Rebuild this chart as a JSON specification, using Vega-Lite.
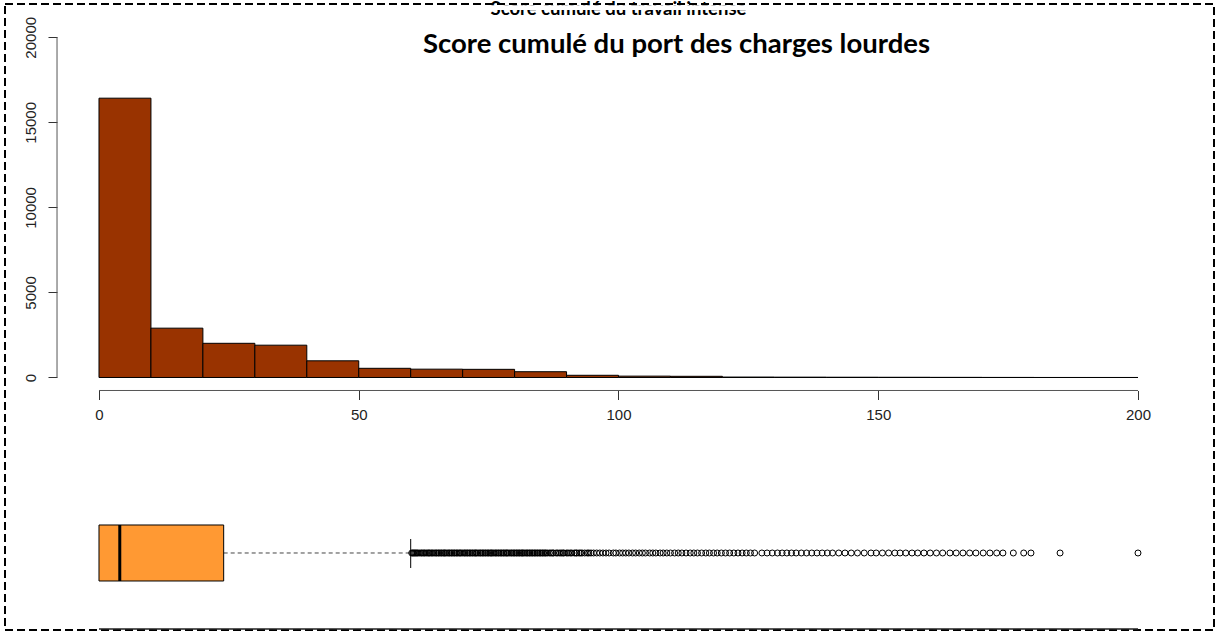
{
  "$schema": "https://vega.github.io/schema/vega-lite/v6.json",
  "width": 1209,
  "height": 626,
  "autosize": {"type": "none"},
  "padding": {"left": 5, "top": 4, "right": 4, "bottom": 2},
  "background": "white",
  "config": {
    "view": {"stroke": "black", "strokeWidth": 2, "strokeDash": [8, 4]},
    "font": "Liberation Sans"
  },
  "datasets": {
    "hist": [
      {"start": 0, "end": 10, "count": 16420},
      {"start": 10, "end": 20, "count": 2900},
      {"start": 20, "end": 30, "count": 2010},
      {"start": 30, "end": 40, "count": 1900},
      {"start": 40, "end": 50, "count": 980},
      {"start": 50, "end": 60, "count": 540},
      {"start": 60, "end": 70, "count": 490},
      {"start": 70, "end": 80, "count": 480},
      {"start": 80, "end": 90, "count": 340},
      {"start": 90, "end": 100, "count": 130},
      {"start": 100, "end": 110, "count": 80},
      {"start": 110, "end": 120, "count": 70},
      {"start": 120, "end": 130, "count": 25},
      {"start": 130, "end": 140, "count": 20},
      {"start": 140, "end": 150, "count": 15},
      {"start": 150, "end": 160, "count": 12},
      {"start": 160, "end": 170, "count": 8},
      {"start": 170, "end": 180, "count": 4},
      {"start": 180, "end": 190, "count": 1},
      {"start": 190, "end": 200, "count": 1}
    ],
    "box": [
      {"lower": 0, "q1": 0, "median": 4, "q3": 24, "upper": 60}
    ],
    "outliers": [
      {"v": 60.2}, {"v": 60.4}, {"v": 60.6}, {"v": 60.8}, {"v": 61}, {"v": 61.2}, {"v": 61.4}, {"v": 61.7}, {"v": 62}, {"v": 62.2},
      {"v": 62.5}, {"v": 62.7}, {"v": 63}, {"v": 63.3}, {"v": 63.5}, {"v": 63.7}, {"v": 64}, {"v": 64.2}, {"v": 64.5}, {"v": 64.8},
      {"v": 65}, {"v": 65.3}, {"v": 65.5}, {"v": 65.8}, {"v": 66}, {"v": 66.3}, {"v": 66.5}, {"v": 66.7}, {"v": 67}, {"v": 67.3},
      {"v": 67.5}, {"v": 67.8}, {"v": 68}, {"v": 68.3}, {"v": 68.5}, {"v": 68.8}, {"v": 69}, {"v": 69.3}, {"v": 69.5}, {"v": 69.7},
      {"v": 70}, {"v": 70.3}, {"v": 70.5}, {"v": 70.8}, {"v": 71}, {"v": 71.3}, {"v": 71.5}, {"v": 71.8}, {"v": 72}, {"v": 72.3},
      {"v": 72.5}, {"v": 72.7}, {"v": 73}, {"v": 73.3}, {"v": 73.5}, {"v": 73.8}, {"v": 74}, {"v": 74.3}, {"v": 74.5}, {"v": 74.8},
      {"v": 75}, {"v": 75.3}, {"v": 75.5}, {"v": 75.7}, {"v": 76}, {"v": 76.3}, {"v": 76.5}, {"v": 76.8}, {"v": 77}, {"v": 77.3},
      {"v": 77.5}, {"v": 77.8}, {"v": 78}, {"v": 78.3}, {"v": 78.5}, {"v": 78.7}, {"v": 79}, {"v": 79.3}, {"v": 79.5}, {"v": 79.8},
      {"v": 80}, {"v": 80.3}, {"v": 80.5}, {"v": 80.8}, {"v": 81}, {"v": 81.3}, {"v": 81.5}, {"v": 81.7}, {"v": 82}, {"v": 82.3},
      {"v": 82.5}, {"v": 82.8}, {"v": 83}, {"v": 83.3}, {"v": 83.5}, {"v": 83.8}, {"v": 84}, {"v": 84.3}, {"v": 84.5}, {"v": 84.8},
      {"v": 85}, {"v": 85.3}, {"v": 85.5}, {"v": 85.8}, {"v": 86}, {"v": 86.3}, {"v": 86.7}, {"v": 87}, {"v": 87.3}, {"v": 87.5},
      {"v": 88}, {"v": 88.3}, {"v": 88.7}, {"v": 89}, {"v": 89.3}, {"v": 89.5}, {"v": 90}, {"v": 90.3}, {"v": 90.7}, {"v": 91},
      {"v": 91.5}, {"v": 91.8}, {"v": 92}, {"v": 92.4}, {"v": 92.7}, {"v": 93}, {"v": 93.5}, {"v": 94}, {"v": 94.3}, {"v": 94.7},
      {"v": 95.2}, {"v": 95.8}, {"v": 96.4}, {"v": 97}, {"v": 97.6}, {"v": 98.2}, {"v": 99}, {"v": 99.5}, {"v": 100.2}, {"v": 100.8},
      {"v": 101.4}, {"v": 102}, {"v": 102.7}, {"v": 103.3}, {"v": 104}, {"v": 104.6}, {"v": 105.2}, {"v": 106}, {"v": 106.6}, {"v": 107.2},
      {"v": 108}, {"v": 108.6}, {"v": 109.3}, {"v": 110}, {"v": 110.8}, {"v": 111.5}, {"v": 112.2}, {"v": 113}, {"v": 113.8}, {"v": 114.5},
      {"v": 115.2}, {"v": 116}, {"v": 116.8}, {"v": 117.5}, {"v": 118.3}, {"v": 119}, {"v": 119.8}, {"v": 120.6}, {"v": 121.4}, {"v": 122.2},
      {"v": 123}, {"v": 123.8}, {"v": 124.6}, {"v": 125.4}, {"v": 126.2},
      {"v": 127.6}, {"v": 128.6}, {"v": 129.6}, {"v": 130.6}, {"v": 131.5}, {"v": 132.4}, {"v": 133.3}, {"v": 134.2}, {"v": 135.2}, {"v": 136.2},
      {"v": 137.2}, {"v": 138.2}, {"v": 139.2}, {"v": 140.2}, {"v": 141.2}, {"v": 142.4}, {"v": 143.6}, {"v": 144.8}, {"v": 146}, {"v": 147.3}, {"v": 148.6},
      {"v": 149.6}, {"v": 150.8}, {"v": 152}, {"v": 153.2}, {"v": 154.2}, {"v": 155.3}, {"v": 156.5}, {"v": 157.6}, {"v": 158.8}, {"v": 160},
      {"v": 161.2}, {"v": 162.4},
      {"v": 163.8}, {"v": 165}, {"v": 166.3}, {"v": 167.6}, {"v": 168.8},
      {"v": 170.2}, {"v": 171.5}, {"v": 172.8}, {"v": 174},
      {"v": 176}, {"v": 178}, {"v": 179.4}, {"v": 185}, {"v": 200}
    ]
  },
  "layer": [
    {
      "data": {"name": "hist"},
      "mark": {"type": "rect", "fill": "#993300", "stroke": "black", "strokeWidth": 1},
      "encoding": {
        "x": {
          "field": "start", "type": "quantitative", "title": null,
          "scale": {"domain": [-18.094, 214.63], "nice": false, "zero": false},
          "axis": {
            "values": [0, 50, 100, 150, 200], "domain": false, "grid": false,
            "offset": -239.5, "tickSize": 9, "tickColor": "#333", "tickWidth": 1,
            "labelPadding": 8, "labelFontSize": 15, "labelColor": "#222", "format": "d",
            "labelFont": "Liberation Sans", "labelFlush": false, "labelOverlap": false, "title": null
          }
        },
        "x2": {"field": "end"},
        "y": {
          "field": "count", "type": "quantitative", "title": null,
          "scale": {"domain": [-14844, 21957], "nice": false, "zero": false},
          "axis": {
            "values": [0, 5000, 10000, 15000, 20000], "domain": false, "grid": false,
            "offset": -52, "tickSize": 9, "tickColor": "#333", "tickWidth": 1,
            "labelAngle": -90, "labelAlign": "center", "labelBaseline": "bottom", "format": "d",
            "labelPadding": 10, "labelFontSize": 15, "labelColor": "#222",
            "labelFont": "Liberation Sans", "labelFlush": false, "labelOverlap": false, "title": null
          }
        },
        "y2": {"datum": 0}
      }
    },
    {
      "data": {"values": [{}]},
      "mark": {"type": "rule", "color": "#555", "strokeWidth": 1},
      "encoding": {"x": {"datum": -8.08}, "y": {"datum": 0}, "y2": {"datum": 20000}}
    },
    {
      "data": {"values": [{}]},
      "mark": {"type": "rule", "color": "#555", "strokeWidth": 1},
      "encoding": {"x": {"datum": 0}, "x2": {"datum": 200}, "y": {"datum": -764}}
    },
    {
      "data": {"values": [{}]},
      "mark": {"type": "rule", "color": "#222", "strokeWidth": 1.5},
      "encoding": {"x": {"datum": 0}, "x2": {"datum": 200}, "y": {"datum": -14790}}
    },
    {
      "data": {"name": "box"},
      "mark": {"type": "rule", "color": "#444", "strokeWidth": 1, "strokeDash": [4, 3]},
      "encoding": {
        "x": {"field": "q3", "type": "quantitative", "title": null},
        "x2": {"field": "upper"},
        "y": {"datum": -10317}
      }
    },
    {
      "data": {"name": "box"},
      "mark": {"type": "rule", "color": "black", "strokeWidth": 1},
      "encoding": {
        "x": {"field": "upper", "type": "quantitative", "title": null},
        "y": {"datum": -9494},
        "y2": {"datum": -11199}
      }
    },
    {
      "data": {"name": "box"},
      "mark": {"type": "rect", "fill": "#FF9933", "stroke": "black", "strokeWidth": 1},
      "encoding": {
        "x": {"field": "q1", "type": "quantitative", "title": null},
        "x2": {"field": "q3"},
        "y": {"datum": -8671},
        "y2": {"datum": -11963}
      }
    },
    {
      "data": {"name": "box"},
      "mark": {"type": "rule", "color": "black", "strokeWidth": 3},
      "encoding": {
        "x": {"field": "median", "type": "quantitative", "title": null},
        "y": {"datum": -8671},
        "y2": {"datum": -11963}
      }
    },
    {
      "data": {"name": "outliers"},
      "mark": {"type": "point", "shape": "circle", "filled": false, "size": 36, "stroke": "black", "strokeWidth": 1, "opacity": 1},
      "encoding": {
        "x": {"field": "v", "type": "quantitative", "title": null},
        "y": {"datum": -10317}
      }
    },
    {
      "data": {"values": [{}]},
      "mark": {"type": "text", "font": "Lato", "fontWeight": "bold", "fontSize": 18.5, "align": "center", "baseline": "alphabetic", "color": "black"},
      "encoding": {"x": {"datum": 100}, "y": {"datum": 21282}, "text": {"value": "Score cumulé du travail intense"}}
    },
    {
      "data": {"values": [{}]},
      "mark": {"type": "rect", "fill": "white"},
      "encoding": {"x": {"datum": 72}, "x2": {"datum": 130}, "y": {"datum": 21880}, "y2": {"datum": 21600}}
    },
    {
      "data": {"values": [{}]},
      "mark": {"type": "text", "font": "Lato", "fontWeight": "bold", "fontSize": 27.5, "align": "center", "baseline": "alphabetic", "color": "black"},
      "encoding": {"x": {"datum": 111.17}, "y": {"datum": 19077}, "text": {"value": "Score cumulé du port des charges lourdes"}}
    }
  ]
}
